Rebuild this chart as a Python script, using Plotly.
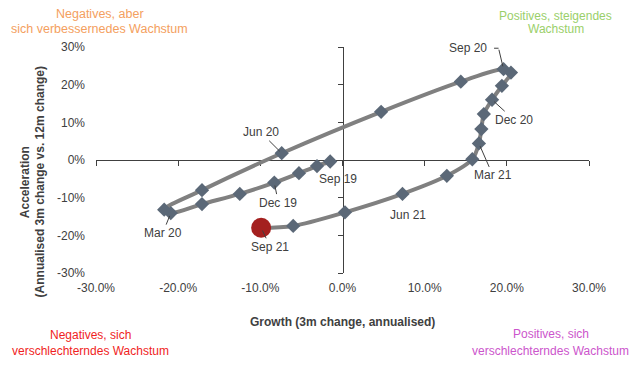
import plotly.graph_objects as go

# ---- data ----
months = ["Sep 19", "Oct 19", "Nov 19", "Dec 19", "Jan 20", "Feb 20", "Mar 20",
          "Apr 20", "May 20", "Jun 20", "Jul 20", "Aug 20", "Sep 20", "Oct 20",
          "Nov 20", "Dec 20", "Jan 21", "Feb 21", "Mar 21", "Apr 21", "May 21",
          "Jun 21", "Jul 21", "Aug 21", "Sep 21"]
growth = [-1.5, -3.1, -5.3, -8.3, -12.5, -17.1, -20.9,
          -21.7, -17.1, -7.4, 4.7, 14.4, 19.6, 20.5,
          19.4, 18.2, 17.2, 16.9, 16.6, 15.8, 12.7,
          7.3, 0.3, -6.0, -9.9]
accel = [-0.4, -1.6, -3.5, -6.0, -9.0, -11.7, -14.1,
         -13.2, -8.0, 1.8, 12.8, 20.8, 24.1, 23.2,
         19.7, 16.0, 12.2, 8.2, 4.4, 0.2, -4.2,
         -9.0, -13.9, -17.5, -18.0]

x_tick_vals = [-30, -20, -10, 0, 10, 20, 30]
x_tick_text = ["-30.0%", "-20.0%", "-10.0%", "0.0%", "10.0%", "20.0%", "30.0%"]
y_tick_vals = [-30, -20, -10, 0, 10, 20, 30]
y_tick_text = ["-30%", "-20%", "-10%", "0%", "10%", "20%", "30%"]

quadrant_texts = [["Negatives, aber", "sich verbessernedes Wachstum"],
                  ["Positives, steigendes", "Wachstum"],
                  ["Negatives, sich", "verschlechterndes Wachstum"],
                  ["Positives, sich", "verschlechterndes Wachstum"]]

x_title = "Growth (3m change, annualised)"
y_title = ["Acceleration", "(Annualised 3m change vs. 12m change)"]

# ---- styles ----
FONT = "Arial, Liberation Sans, sans-serif"
TXT = "#404040"
AX = "#404040"

fig = go.Figure()

fig.add_trace(go.Scatter(
    x=growth, y=accel, mode="lines",
    line=dict(color="#808080", width=4, shape="spline", smoothing=0.9),
    hoverinfo="skip", showlegend=False))

fig.add_trace(go.Scatter(
    x=growth[:-1], y=accel[:-1], mode="markers",
    marker=dict(symbol="diamond", size=11, color="#5B6877"),
    text=months[:-1], showlegend=False))

fig.add_trace(go.Scatter(
    x=growth[-1:], y=accel[-1:], mode="markers",
    marker=dict(symbol="circle", size=20, color="#A4201F"),
    text=months[-1:], showlegend=False))

# dummy trace so the overlaying axes are drawn
fig.add_trace(go.Scatter(x=[None], y=[None], xaxis="x2", yaxis="y2",
                         showlegend=False, hoverinfo="skip"))

# ---- data labels ----
label_style = {
    # month: (ax, ay, arrow)
    "Sep 19": (8, 17, False),
    "Dec 19": (4, 20, True),
    "Mar 20": (-8, 20, True),
    "Jun 20": (-21, -21, True),
    "Sep 20": (-36, -21, False),
    "Dec 20": (22, 20, True),
    "Mar 21": (14, 32, True),
    "Jun 21": (6, 21, False),
    "Sep 21": (9, 19, True),
}
for m, (ax, ay, arrow) in label_style.items():
    i = months.index(m)
    fig.add_annotation(
        x=growth[i], y=accel[i], xref="x", yref="y", text=m,
        showarrow=True, ax=ax, ay=ay, arrowhead=0, arrowwidth=1,
        arrowcolor=AX if arrow else "rgba(0,0,0,0)", standoff=3,
        font=dict(family=FONT, size=12, color=TXT))

# elbow leader for Sep 20
i = months.index("Sep 20")
fig.add_annotation(x=growth[i], y=accel[i], text="", showarrow=True,
                   ax=-5, ay=-21, arrowhead=0, arrowwidth=1, arrowcolor=AX,
                   standoff=3)
fig.add_annotation(x=growth[i], y=accel[i], text="", showarrow=True,
                   xshift=-5, yshift=21, ax=-6, ay=0, arrowhead=0,
                   arrowwidth=1, arrowcolor=AX)

# ---- quadrant labels (one annotation per line) ----
quad_pos = [(0.008, (1.144, 1.080), "#F4A060", 12.5),
            (0.933, (1.137, 1.078), "#9ACF6A", 12),
            (-0.012, (-0.275, -0.346), "#F01E23", 12),
            (0.922, (-0.271, -0.346), "#CC55CC", 12)]
for lines, (px, pys, c, fs) in zip(quadrant_texts, quad_pos):
    for t, py in zip(lines, pys):
        fig.add_annotation(x=px, y=py, xref="paper", yref="paper", text=t,
                           showarrow=False, xanchor="center", yanchor="middle",
                           font=dict(family=FONT, size=fs, color=c))

# ---- axis titles ----
fig.add_annotation(x=0.5, y=-0.217, xref="paper", yref="paper",
                   text="<b>" + x_title + "</b>", showarrow=False,
                   xanchor="center", yanchor="middle",
                   font=dict(family=FONT, size=12, color=TXT))
for t, px in zip(y_title, (-0.144, -0.113)):
    fig.add_annotation(x=px, y=0.402, xref="paper", yref="paper",
                       text="<b>" + t + "</b>", showarrow=False, textangle=-90,
                       xanchor="center", yanchor="middle",
                       font=dict(family=FONT, size=12, color=TXT))

# page body has an 8px margin: size the figure so it fits the window
fig.update_layout(
    width=632, height=358,
    margin=dict(l=88, r=51, t=39, b=93),
    paper_bgcolor="white", plot_bgcolor="white",
    font=dict(family=FONT, size=12, color=TXT),
    xaxis=dict(range=[-30, 30], tickvals=x_tick_vals, ticktext=x_tick_text,
               showgrid=False, zeroline=False, showline=False, ticks="",
               ticklabelstandoff=6, tickfont=dict(family=FONT, size=12, color=TXT)),
    yaxis=dict(range=[-30, 30], tickvals=y_tick_vals, ticktext=y_tick_text,
               showgrid=False, zeroline=False, showline=False, ticks="",
               ticklabelstandoff=10, tickfont=dict(family=FONT, size=12, color=TXT)),
    xaxis2=dict(range=[-30, 30], overlaying="x", anchor="free", position=0.5,
                tickvals=x_tick_vals, showticklabels=False, showgrid=False,
                zeroline=False, showline=True, linecolor=AX, linewidth=1,
                ticks="outside", ticklen=5, tickcolor=AX, layer="below traces"),
    yaxis2=dict(range=[-30, 30], overlaying="y", anchor="free", position=0.5,
                tickvals=y_tick_vals, showticklabels=False, showgrid=False,
                zeroline=False, showline=True, linecolor=AX, linewidth=1,
                ticks="outside", ticklen=5, tickcolor=AX, layer="below traces"),
)

fig.write_html("out.html")
